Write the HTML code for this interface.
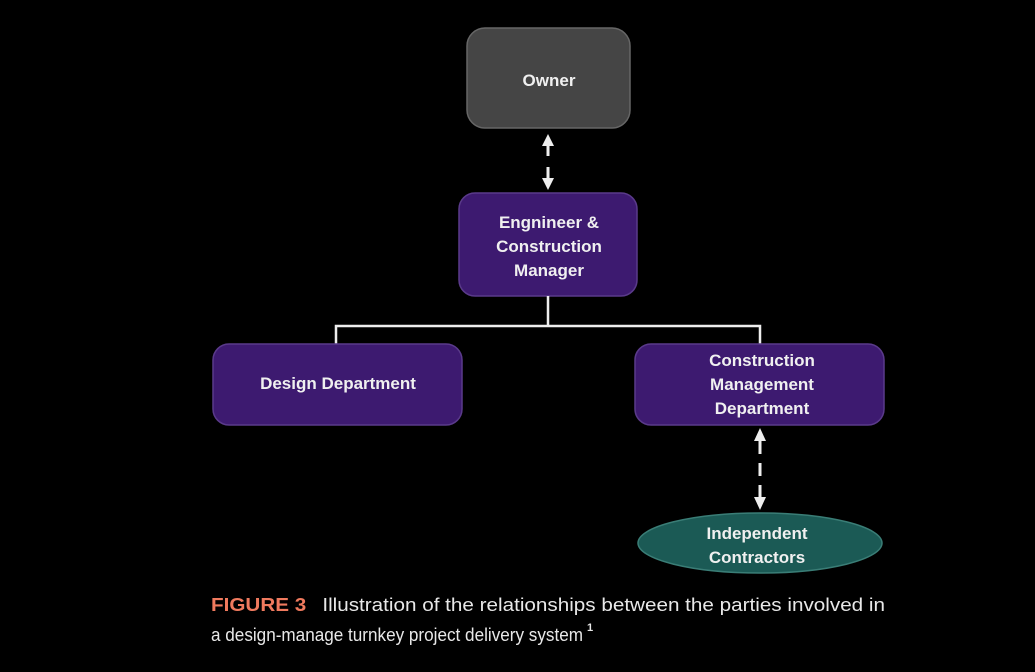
<!DOCTYPE html>
<html><head><style>
body{margin:0;background:#000;}
svg{display:block}
text{font-family:"Liberation Sans",sans-serif;font-weight:bold;fill:#f0f0f0;font-size:17px;text-anchor:middle}
.cap{font-weight:normal;text-anchor:start;font-size:18px;fill:#e8e8e8}
</style></head><body>
<svg width="1035" height="672" viewBox="0 0 1035 672">
<rect width="1035" height="672" fill="#000"/>
<rect x="467" y="28" width="163" height="100" rx="18" fill="#454545" stroke="#666" stroke-width="1.5"/>
<text x="549" y="86">Owner</text>
<rect x="459" y="193" width="178" height="103" rx="16" fill="#3d1a70" stroke="#5a3a8a" stroke-width="1.5"/>
<text x="549" y="228">Engnineer &amp;</text>
<text x="549" y="252">Construction</text>
<text x="549" y="276">Manager</text>
<path d="M548 296V326M336 344V326H760V344" stroke="#eee" stroke-width="2.5" fill="none"/>
<rect x="213" y="344" width="249" height="81" rx="16" fill="#3d1a70" stroke="#5a3a8a" stroke-width="1.5"/>
<text x="338" y="389">Design Department</text>
<rect x="635" y="344" width="249" height="81" rx="16" fill="#3d1a70" stroke="#5a3a8a" stroke-width="1.5"/>
<text x="762" y="366">Construction</text>
<text x="762" y="390">Management</text>
<text x="762" y="414">Department</text>
<ellipse cx="760" cy="543" rx="122" ry="30" fill="#1b5a55" stroke="#3a7d76" stroke-width="1.5"/>
<text x="757" y="539">Independent</text>
<text x="757" y="563">Contractors</text>
<g stroke="#eee" stroke-width="3" fill="none">
<path d="M548 143V156M548 167V180" />
<path d="M760 440V454M760 463V476M760 485V498"/>
</g>
<g fill="#eee">
<path d="M542 146L548 134L554 146Z"/>
<path d="M542 178L548 190L554 178Z"/>
<path d="M754 441L760 428L766 441Z"/>
<path d="M754 497L760 510L766 497Z"/>
</g>
<text class="cap" x="211" y="611" textLength="674" lengthAdjust="spacingAndGlyphs"><tspan fill="#f07a5e" font-weight="bold">FIGURE 3</tspan><tspan dx="14">Illustration of the relationships between the parties involved in</tspan></text>
<text class="cap" x="211" y="641" textLength="372" lengthAdjust="spacingAndGlyphs">a design-manage turnkey project delivery system</text>
<text x="587" y="631" style="font-size:11px;font-weight:bold;text-anchor:start;fill:#e8e8e8">1</text>
</svg>
</body></html>
